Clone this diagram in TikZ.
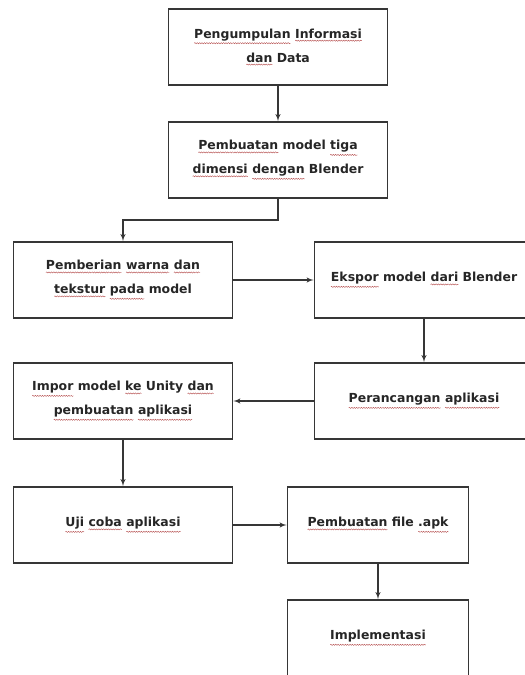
\documentclass[tikz,border=0pt]{standalone}
\usepackage{fontspec}
\setmainfont{DejaVu Sans}
\usetikzlibrary{shapes,arrows,positioning,calc,decorations.pathmorphing}
\definecolor{linegray}{HTML}{363636}
\definecolor{spellred}{HTML}{B04040}
\tikzset{
    block/.style  = {draw=linegray, line width=1.8pt, fill=white, rectangle, minimum height=76bp,
                     minimum width=219bp, text width=205bp, align=center, text=black!85,
                     font=\bfseries\fontsize{12.5}{24}\selectfont},
    narrow/.style = {block, minimum width=181bp, text width=170bp},
    tmp/.style    = {coordinate},
    line/.style   = {->, draw=linegray, line width=1.4pt},
    word/.style   = {draw=none, fill=none, inner sep=0pt, outer sep=0pt, text width={},
                     minimum width=0pt, minimum height=0pt},
    wave/.style   = {spellred, line width=0.35pt, decorate,
                     decoration={snake, amplitude=0.6pt, segment length=2.4pt}}
}
% spell-check underline
\newcommand{\salah}[1]{\tikz[baseline=(w.base)]{\node [word] (w) {#1};
    \draw [wave] ([yshift=-2.4pt]w.south west) -- ([yshift=-2.4pt]w.south east);}}

\begin{document}
\begin{tikzpicture}[auto, x=1bp, y=1bp, >=latex']
    \useasboundingbox (0,0) rectangle (525,-675);
    \node [block]  (info)    at (278,-47)  {\salah{Pengumpulan} \salah{Informasi}\\ \salah{dan} Data};
    \node [block]  (model)   at (278,-160) {\salah{Pembuatan} model \salah{tiga}\\ \salah{dimensi} \salah{dengan} Blender};
    \node [tmp, below=21bp of model]       (tmp1)    {};
    \node [block]  (warna)   at (123,-280) {\salah{Pemberian} \salah{warna} \salah{dan}\\ \salah{tekstur} \salah{pada} model};
    \node [block]  (ekspor)  at (424,-280) {\salah{Ekspor} model \salah{dari} Blender};
    \node [block]  (rancang) at (424,-401) {\salah{Perancangan} \salah{aplikasi}};
    \node [block]  (impor)   at (123,-401) {\salah{Impor} model \salah{ke} Unity \salah{dan}\\ \salah{pembuatan} \salah{aplikasi}};
    \node [block]  (uji)     at (123,-525) {\salah{Uji} \salah{coba} \salah{aplikasi}};
    \node [narrow] (apk)     at (378,-525) {\salah{Pembuatan} file \salah{.apk}};
    \node [narrow] (impl)    at (378,-638) {\salah{Implementasi}};

    \draw [line] (info) -- (model);
    \draw [line] (model) -- (tmp1) -| (warna);
    \draw [line] (warna) -- (ekspor);
    \draw [line] (ekspor) -- (rancang);
    \draw [line] (rancang) -- (impor);
    \draw [line] (impor) -- (uji);
    \draw [line] (uji) -- (apk);
    \draw [line] (apk) -- (impl);
\end{tikzpicture}
\end{document}
